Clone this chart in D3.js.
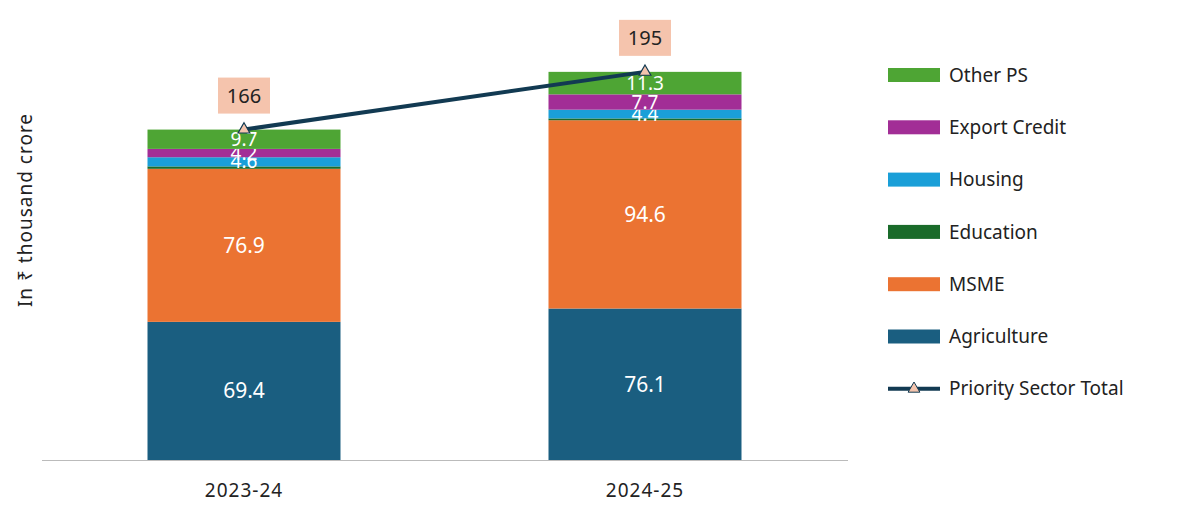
<!DOCTYPE html>
<html><head><meta charset="utf-8">
<script src="https://cdn.jsdelivr.net/npm/d3@7"></script>
<style>body{margin:0;background:#fff;font-family:"Noto Sans",sans-serif}</style>
</head><body><svg id="chart" width="1186" height="509"></svg>
<script>
const years = ['2023-24', '2024-25'];
const series = ['Agriculture', 'MSME', 'Education', 'Housing', 'Export Credit', 'Other PS'];
const colors = ['#1a5e80', '#eb7332', '#1a6b2a', '#1a9fd8', '#a22e96', '#4ea534'];
const agriculture = [69.4, 76.1];
const msme = [76.9, 94.6];
const education = [1.2, 0.9];
const housing = [4.6, 4.4];
const exportCredit = [4.2, 7.7];
const otherPS = [9.7, 11.3];
const totals = [166, 195];

const vals = [agriculture, msme, education, housing, exportCredit, otherPS];
const rows = years.map((y, i) => { const r = { year: y }; series.forEach((s, k) => r[s] = vals[k][i]); return r; });
const stacked = d3.stack().keys(series)(rows);

const svg = d3.select('#chart');
// bar centres
const x = d3.scalePoint().domain(years).range([244, 645]);
const barW = 193;
const y = d3.scaleLinear().domain([0, 210]).range([460, 42]);

stacked.forEach((layer, k) => {
    svg.append('g').selectAll('rect').data(layer).enter().append('rect')
        .attr('x', d => x(d.data.year) - barW / 2).attr('width', barW)
        .attr('y', d => y(d[1])).attr('height', d => y(d[0]) - y(d[1]))
        .attr('fill', colors[k]);
    if (series[k] === 'Education') return;
    svg.append('g').selectAll('text').data(layer).enter().append('text')
        .attr('x', d => x(d.data.year))
        .attr('y', d => (y(d[0]) + y(d[1])) / 2)
        .attr('dy', '0.35em').attr('text-anchor', 'middle')
        .attr('fill', '#fff').attr('font-size', d => (d[1] - d[0]) > 20 ? 21 : 19)
        .text(d => (d[1] - d[0]).toFixed(1));
});

// x axis
svg.append('line').attr('x1', 42).attr('x2', 848).attr('y1', 460.5).attr('y2', 460.5).attr('stroke', '#bbb');
svg.append('g').selectAll('text').data(years).enter().append('text')
    .attr('x', d => x(d)).attr('y', 497).attr('text-anchor', 'middle')
    .attr('font-size', 19).attr('fill', '#222').attr('letter-spacing', 1).text(d => d);

svg.append('text').attr('transform', 'translate(32,210) rotate(-90)').attr('text-anchor', 'middle')
    .attr('font-size', 19).attr('fill', '#222').attr('letter-spacing', 1).text('In ₹ thousand crore');

// total line
const pts = years.map((yr, i) => [x(yr), y(totals[i])]);
svg.append('path').attr('d', d3.line()(pts)).attr('stroke', '#123a52').attr('stroke-width', 4).attr('fill', 'none');
const tri = d3.symbol().type(d3.symbolTriangle).size(60);
svg.append('g').selectAll('path').data(pts).enter().append('path')
    .attr('d', tri).attr('transform', d => `translate(${d[0]},${d[1]})`)
    .attr('fill', '#f4c4ad').attr('stroke', '#123a52').attr('stroke-width', 1.2);
const lbl = svg.append('g').selectAll('g').data(pts).enter().append('g')
    .attr('transform', d => `translate(${d[0]},${d[1] - 34})`);
lbl.append('rect').attr('x', -26).attr('y', -18).attr('width', 52).attr('height', 36).attr('fill', '#f5c4ad');
lbl.append('text').attr('text-anchor', 'middle').attr('dy', '0.35em').attr('font-size', 20).attr('fill', '#222')
    .text((d, i) => totals[i]);

// legend
const legendItems = series.slice().reverse().map(s => ({ name: s, color: colors[series.indexOf(s)] }));
legendItems.push({ name: 'Priority Sector Total', line: true });
const lg = svg.append('g').selectAll('g').data(legendItems).enter().append('g')
    .attr('transform', (d, i) => `translate(888,${75 + i * 52.3})`);
lg.each(function (d) {
    const g = d3.select(this);
    if (d.line) {
        g.append('line').attr('x1', 0).attr('x2', 52).attr('stroke', '#123a52').attr('stroke-width', 4);
        g.append('path').attr('d', tri).attr('transform', 'translate(26,0)').attr('fill', '#f4c4ad').attr('stroke', '#123a52');
    } else {
        g.append('rect').attr('x', 0).attr('y', -7).attr('width', 52).attr('height', 14).attr('fill', d.color);
    }
    g.append('text').attr('x', 61).attr('dy', '0.35em').attr('font-size', 19).attr('fill', '#222').text(d.name);
});
</script></body></html>
